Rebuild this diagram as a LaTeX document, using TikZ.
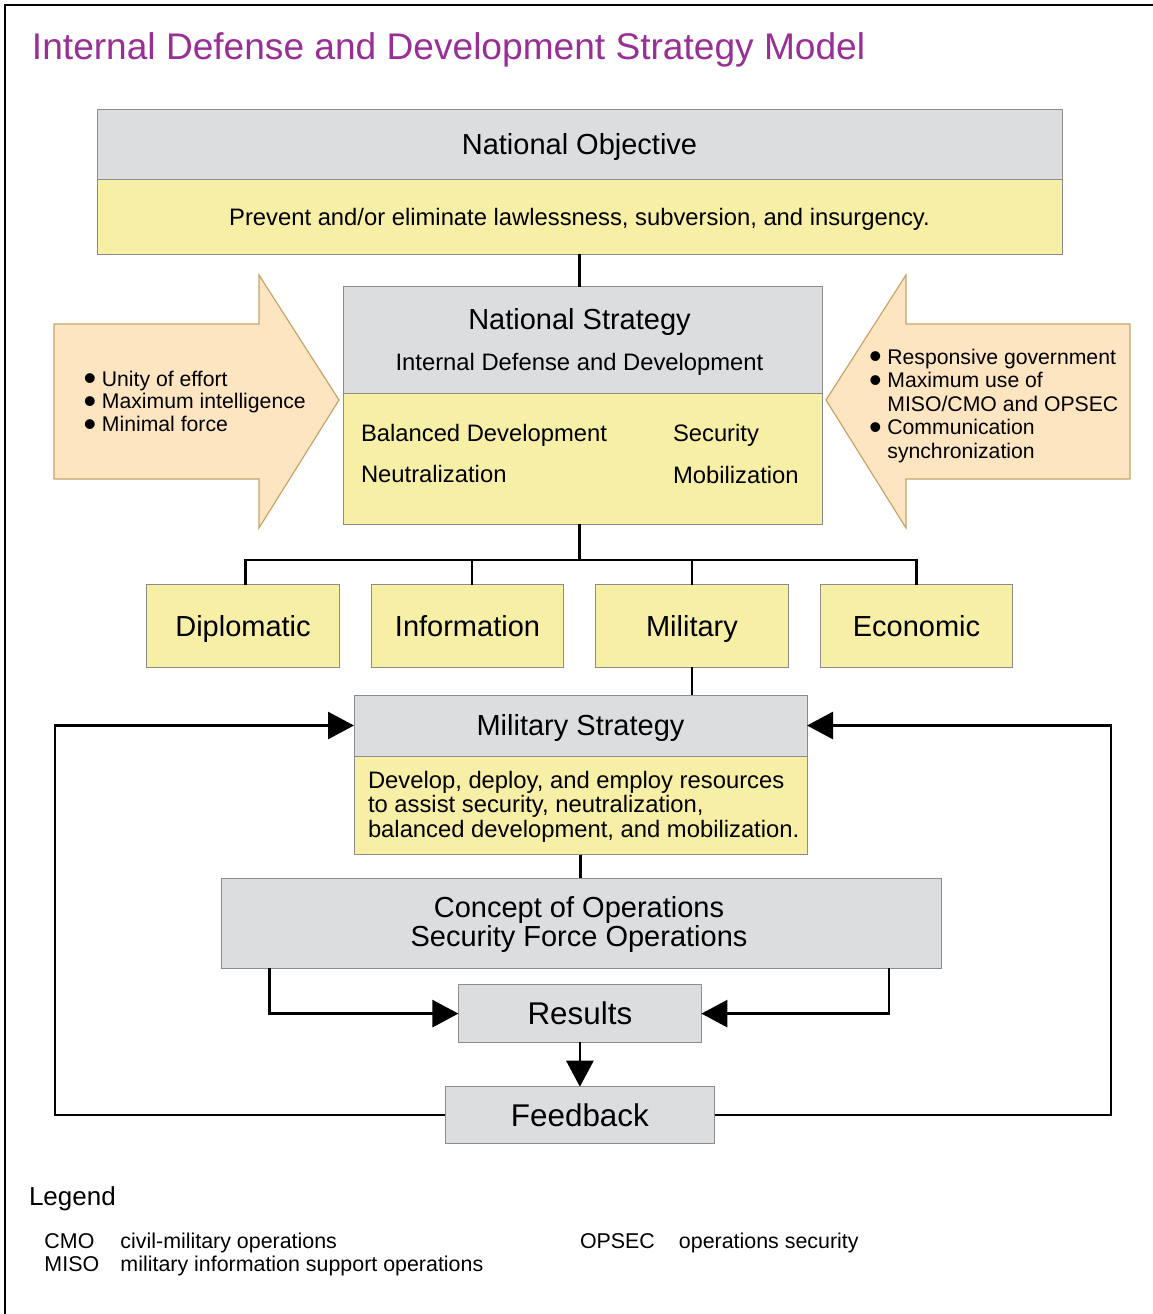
\documentclass[tikz,border=0pt]{standalone}
\usepackage{fontspec}
\setmainfont{Liberation Sans}
\usetikzlibrary{arrows.meta,positioning}

\definecolor{boxgray}{RGB}{220,221,223}
\definecolor{boxyellow}{RGB}{248,239,166}
\definecolor{boxline}{RGB}{140,140,140}
\definecolor{arrowfill}{RGB}{253,229,193}
\definecolor{arrowline}{RGB}{196,164,106}
\definecolor{titlepurple}{RGB}{152,46,150}

\newcommand{\bulletmark}{\makebox[9.2pt][l]{\smash{\raisebox{-2.4pt}{\fontsize{18}{18}\selectfont\textbullet}}}}

\begin{document}
\begin{tikzpicture}[x=0.5pt,y=-0.5pt,
    box/.style={draw=boxline,line width=0.5pt,inner sep=0pt,outer sep=0pt,text depth=0pt},
    graybox/.style={box,fill=boxgray},
    yellowbox/.style={box,fill=boxyellow},
    headfont/.style={font=\fontsize{14.5}{14.5}\selectfont,text height=10.4pt},
    bodyfont/.style={font=\fontsize{11.9}{12.1}\selectfont,text height=8.5pt},
    resultfont/.style={font=\fontsize{15.7}{15.7}\selectfont,text height=11.25pt},
    notefont/.style={font=\fontsize{10.7}{11.8}\selectfont},
    txt/.style={inner sep=0pt,outer sep=0pt},
    link/.style={line width=1.4pt},
    flow/.style={link,-{Triangle[length=13pt,width=13.5pt]}},
    bigarrow/.style={draw=arrowline,fill=arrowfill,line width=0.6pt,line join=miter}]

    \useasboundingbox (0,0) rectangle (1153,1314);
    \draw[line width=1.35pt] (5,1330) -- (5,5) -- (1170,5);

    \node[txt,anchor=base west,text=titlepurple,font=\fontsize{18.55}{18.55}\selectfont] (title) at (32,59)
        {Internal Defense and Development Strategy Model};

    % national objective
    \node[graybox,headfont,minimum width=482.5pt,minimum height=35pt] (objhead) at (579.5,144) {National Objective};
    \node[yellowbox,bodyfont,minimum width=482.5pt,minimum height=37.5pt,below=0pt of objhead] (objbody)
        {Prevent and/or eliminate lawlessness, subversion, and insurgency.};

    % side arrows
    \draw[bigarrow] (54,324) -- (259,324) -- (259,275) -- (339,400) -- (259,528) -- (259,479) -- (54,479) -- cycle;
    \draw[bigarrow] (1130,324) -- (906,324) -- (906,275) -- (826,400) -- (906,528) -- (906,479) -- (1130,479) -- cycle;
    \node[txt,anchor=base west,font=\fontsize{10.6}{11.4}\selectfont] (leftlist) at (83.5,386)
        {\begin{tabular}[t]{@{}l@{}l@{}}
            \bulletmark & Unity of effort\\
            \bulletmark & Maximum intelligence\\
            \bulletmark & Minimal force
        \end{tabular}};
    \node[txt,anchor=base west,font=\fontsize{10.6}{11.8}\selectfont] (rightlist) at (869,364)
        {\begin{tabular}[t]{@{}l@{}l@{}}
            \bulletmark & Responsive government\\
            \bulletmark & Maximum use of\\
                        & MISO/CMO and OPSEC\\
            \bulletmark & Communication\\
                        & synchronization
        \end{tabular}};

    % national strategy
    \node[graybox,minimum width=239.7pt,minimum height=53.3pt] (nshead) at (583,340) {};
    \node[yellowbox,minimum width=239.7pt,minimum height=65.5pt,below=0pt of nshead] (nsbody) {};
    \node[txt,anchor=base,headfont] (nstitle) at (579.5,329.5) {National Strategy};
    \node[txt,anchor=base,bodyfont] (nssub) at (579.5,370.5) {Internal Defense and Development};
    \node[txt,anchor=base west,bodyfont] (balanced) at (361,441) {Balanced Development};
    \node[txt,anchor=base west,bodyfont] (security) at (673,441.5) {Security};
    \node[txt,anchor=base west,bodyfont] (neutral) at (361,482.5) {Neutralization};
    \node[txt,anchor=base west,bodyfont] (mobil) at (673,483) {Mobilization};

    \draw[link] (objbody.south) -- (objbody.south |- nshead.north);

    % instruments of national power
    \node[yellowbox,headfont,minimum width=96.25pt,minimum height=41.15pt] (dipl) at (243,626) {Diplomatic};
    \node[yellowbox,headfont,minimum width=96.25pt,minimum height=41.15pt,right=16pt of dipl] (info) {Information};
    \node[yellowbox,headfont,minimum width=96.25pt,minimum height=41.15pt,right=16pt of info] (mil) {Military};
    \node[yellowbox,headfont,minimum width=96.25pt,minimum height=41.15pt,right=16pt of mil] (econ) {Economic};

    \coordinate (bus) at (579.4,560);
    \coordinate (infotop) at ([xshift=2.25pt]info.north);
    \draw[link] (nsbody.south -| bus) -- (bus);
    \draw[link] ([xshift=1.25pt]dipl.north) |- (bus) -| (econ.north);
    \draw[link] (bus -| mil.north) -- (mil.north);
    \draw[line width=0.7pt] (infotop |- bus) -- (infotop);

    % military strategy
    \node[graybox,headfont,minimum width=226.5pt,minimum height=30.5pt] (mshead) at (580.5,725.5) {Military Strategy};
    \node[yellowbox,minimum width=226.5pt,minimum height=49.25pt,below=0pt of mshead] (msbody) {};
    \node[txt,anchor=base west,bodyfont] (mstext) at (368,788)
        {\begin{tabular}[t]{@{}l@{}}
            Develop, deploy, and employ resources\\
            to assist security, neutralization,\\
            balanced development, and mobilization.
        \end{tabular}};
    \draw[link] (mil.south) -- (mil.south |- mshead.north);

    % concept of operations
    \node[graybox,minimum width=360pt,minimum height=45pt] (conops) at (581,923) {};
    \node[txt,anchor=base,font=\fontsize{14.5}{14.5}\selectfont] (context) at (579,917)
        {\begin{tabular}[t]{@{}c@{}}
            Concept of Operations\\
            Security Force Operations
        \end{tabular}};
    \draw[link] (msbody.south) -- (msbody.south |- conops.north);

    % results and feedback
    \node[graybox,resultfont,minimum width=121.5pt,minimum height=28.65pt] (res) at (579.9,1013.6) {Results};
    \node[graybox,resultfont,minimum width=134.9pt,minimum height=28.3pt] (fb) at (579.9,1115) {Feedback};

    \coordinate (resL) at (269.5,968);
    \coordinate (resR) at (889,968);
    \coordinate (loopL) at (55,1115);
    \coordinate (loopR) at (1111,1115);
    \draw[flow] (resL) |- (res.west);
    \draw[flow] (resR) |- (res.east);
    \draw[flow] (res.south) -- (fb.north);
    \draw[flow] (fb.west) -- (loopL) |- (mshead.west);
    \draw[flow] (fb.east) -- (loopR) |- (mshead.east);

    % legend
    \node[txt,anchor=base west,font=\fontsize{13}{13}\selectfont] (legend) at (29,1205) {Legend};
    \node[txt,anchor=base west,notefont] (abbrleft) at (44.5,1248.3)
        {\begin{tabular}[t]{@{}p{38pt}@{}l@{}}
            CMO & civil-military operations\\
            MISO & military information support operations
        \end{tabular}};
    \node[txt,anchor=base west,notefont] (abbrright) at (580,1248.3)
        {\begin{tabular}[t]{@{}p{49.5pt}@{}l@{}}
            OPSEC & operations security
        \end{tabular}};
\end{tikzpicture}
\end{document}
